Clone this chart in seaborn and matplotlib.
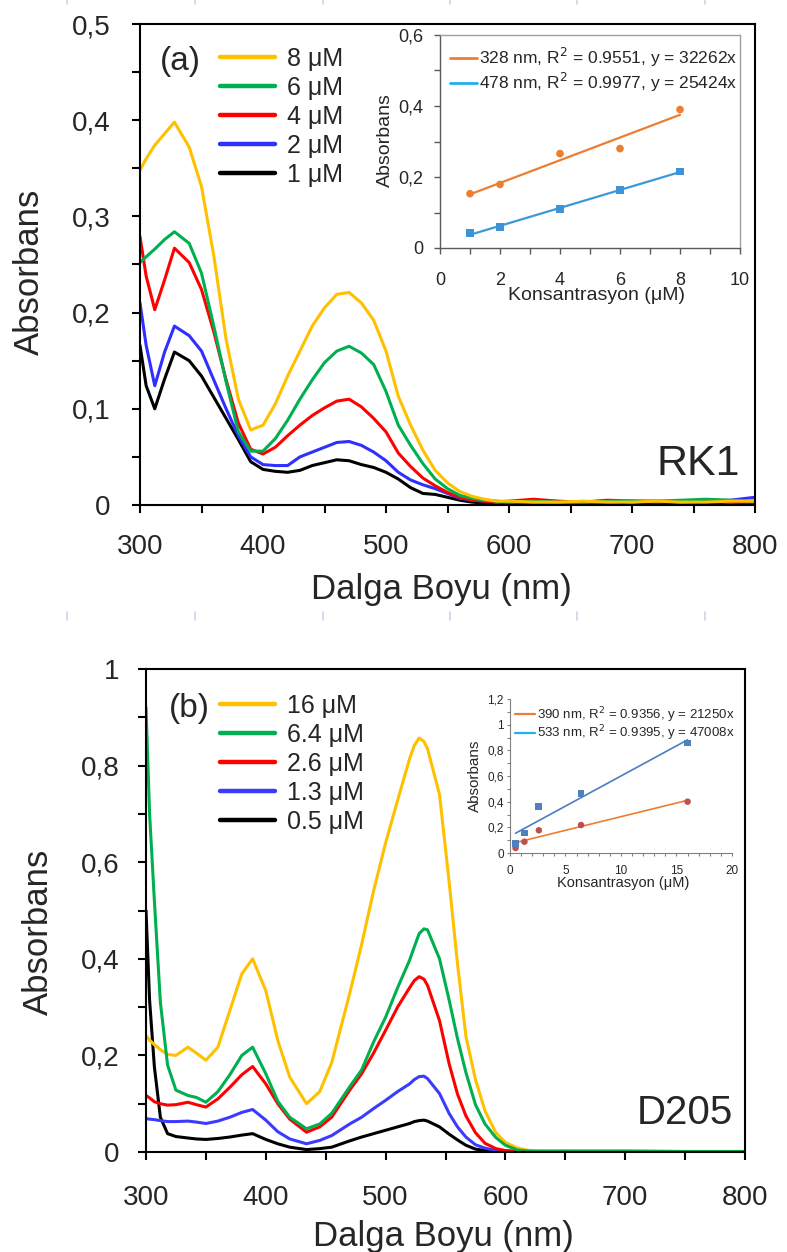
import numpy as np
import pandas as pd
import seaborn as sns
import matplotlib.pyplot as plt
from matplotlib.lines import Line2D
from matplotlib.ticker import FixedLocator, MultipleLocator

# ---- panel (a): RK1 spectra ----
wl_a = [300, 305, 312, 320, 328, 340, 350, 360, 370, 380, 390, 400, 410, 420, 430, 440,
        450, 460, 470, 480, 490, 500, 510, 520, 530, 540, 550, 560, 570, 580, 590, 600,
        620, 640, 660, 680, 700, 720, 740, 760, 780, 800]
rk1_8 = [.348, .360, .374, .386, .398, .372, .331, .259, .172, .110, .078, .083, .105, .134, .160, .186,
         .205, .219, .221, .210, .192, .160, .113, .083, .057, .036, .023, .014, .009, .006, .004, .004,
         .003, .003, .004, .003, .003, .004, .003, .003, .004, .004]
rk1_6 = [.252, .258, .266, .276, .284, .272, .241, .186, .128, .076, .056, .056, .069, .088, .110, .130,
         .148, .160, .165, .158, .146, .118, .083, .062, .043, .027, .017, .010, .007, .005, .004, .003,
         .004, .003, .003, .004, .004, .004, .005, .006, .005, .004]
rk1_4 = [.279, .238, .203, .234, .267, .252, .224, .180, .130, .085, .058, .053, .060, .072, .083, .093,
         .101, .108, .110, .102, .090, .076, .054, .040, .028, .020, .013, .008, .005, .004, .003, .004,
         .006, .004, .003, .005, .004, .003, .004, .004, .003, .003]
rk1_2 = [.210, .166, .124, .159, .186, .176, .160, .130, .100, .072, .050, .042, .041, .041, .050, .055,
         .060, .065, .066, .062, .055, .046, .034, .026, .021, .017, .012, .007, .005, .004, .003, .003,
         .003, .002, .003, .003, .004, .004, .003, .004, .005, .008]
rk1_1 = [.166, .124, .100, .131, .159, .150, .134, .112, .090, .068, .045, .037, .035, .034, .036, .041,
         .044, .047, .046, .042, .039, .034, .027, .018, .012, .011, .008, .005, .003, .002, .003, .002,
         .003, .002, .003, .002, .003, .002, .003, .002, .003, .002]
labels_a = ["1 μM", "2 μM", "4 μM", "6 μM", "8 μM"]

# ---- panel (b): D205 spectra ----
wl_b = [300, 303, 307, 312, 318, 325, 335, 342, 350, 360, 370, 380, 389, 400, 410, 420, 434, 445,
        455, 470, 480, 490, 500, 510, 520, 524, 528, 532, 535, 545, 553, 560, 567, 575, 583, 592,
        600, 610, 620, 650, 700, 750, 800]
d205_16 = [.241, .232, .222, .212, .202, .200, .217, .205, .190, .217, .293, .369, .400, .334, .231, .155, .100, .125,
           .185, .328, .430, .541, .640, .728, .814, .842, .857, .850, .835, .740, .560, .390, .240, .150, .085, .040,
           .020, .008, .003, .001, .001, .001, .001]
d205_64 = [.920, .700, .520, .310, .180, .128, .117, .113, .103, .125, .160, .200, .217, .162, .105, .072, .048, .058,
           .080, .135, .170, .228, .279, .340, .397, .425, .452, .462, .460, .400, .315, .235, .165, .098, .058, .030,
           .014, .004, .002, .001, .001, .001, .001]
d205_26 = [.117, .112, .104, .100, .097, .098, .103, .098, .093, .110, .134, .160, .177, .141, .100, .068, .041, .052,
           .072, .128, .162, .205, .252, .300, .340, .355, .363, .358, .345, .272, .183, .120, .075, .040, .018, .007,
           .003, .001, .001, .002, .001, .001, .001]
d205_13 = [.069, .068, .067, .065, .063, .063, .064, .062, .059, .064, .072, .082, .088, .066, .042, .027, .017, .024,
           .034, .058, .072, .090, .107, .125, .141, .150, .156, .157, .152, .121, .080, .052, .031, .015, .008, .003,
           .002, .001, .001, .001, .002, .001, .001]
d205_05 = [.500, .314, .176, .072, .038, .032, .029, .027, .026, .028, .031, .035, .038, .026, .017, .010, .005, .007,
           .010, .023, .031, .038, .045, .052, .059, .063, .065, .066, .064, .052, .037, .025, .014, .006, .003, .002,
           .001, .001, .001, .001, .001, .001, .001]
labels_b = ["0.5 μM", "1.3 μM", "2.6 μM", "16 μM", "6.4 μM"]

colors_a = ["#000000", "#2F2FFF", "#FF0000", "#00B050", "#FFC000"]
colors_b = ["#000000", "#3B3BFF", "#FF0000", "#FFC000", "#00B050"]
legend_order_b = ["16 μM", "6.4 μM", "2.6 μM", "1.3 μM", "0.5 μM"]

# ---- calibration insets ----
conc_a = [1, 2, 4, 6, 8]
abs_328 = [.153, .179, .266, .280, .390]
abs_478 = [.042, .059, .110, .163, .216]
conc_b = [0.5, 1.3, 2.6, 6.4, 16]
abs_390 = [.039, .088, .177, .218, .400]
abs_533 = [.073, .156, .364, .462, .857]

x_ticks = [300, 400, 500, 600, 700, 800]
ya_ticks = [0, 0.1, 0.2, 0.3, 0.4, 0.5]
ya_labels = ["0", "0,1", "0,2", "0,3", "0,4", "0,5"]
yb_ticks = [0, 0.2, 0.4, 0.6, 0.8, 1.0]
yb_labels = ["0", "0,2", "0,4", "0,6", "0,8", "1"]
ia_yticks = [0, 0.2, 0.4, 0.6]
ia_ylabels = ["0", "0,2", "0,4", "0,6"]
ib_yticks = [0, 0.2, 0.4, 0.6, 0.8, 1.0, 1.2]
ib_ylabels = ["0", "0,2", "0,4", "0,6", "0,8", "1", "1,2"]

sns.set_style("ticks")
plt.rcParams["font.family"] = ["Liberation Sans", "DejaVu Sans"]

W, H = 787, 1252
fig = plt.figure(figsize=(W / 100, H / 100), dpi=100)


def long_df(wl, series, labels):
    return pd.DataFrame({
        "wl": np.tile(wl, len(series)),
        "A": np.concatenate(series),
        "conc": np.repeat(labels, len(wl)),
    })


def style_main(ax, ylim, yticks, ylabels, yminor, xpad, ypad):
    ax.set_xlim(300, 800)
    ax.set_ylim(*ylim)
    ax.xaxis.set_major_locator(FixedLocator(x_ticks))
    ax.set_xticklabels([str(t) for t in x_ticks])
    ax.xaxis.set_minor_locator(MultipleLocator(50))
    ax.yaxis.set_major_locator(FixedLocator(yticks))
    ax.set_yticklabels(ylabels)
    ax.yaxis.set_minor_locator(MultipleLocator(yminor))
    for s in ax.spines.values():
        s.set_linewidth(1.5)
        s.set_color("black")
    ax.tick_params(axis="both", which="both", direction="out", length=6, width=1.5, color="black")
    ax.tick_params(axis="x", labelsize=20, pad=xpad)
    ax.tick_params(axis="y", labelsize=20, pad=ypad)
    ax.set_xlabel("Dalga Boyu (nm)", fontsize=25)
    ax.set_ylabel("Absorbans", fontsize=25)


def px_axes(l, t, r, b):
    return fig.add_axes([l / W, 1 - b / H, (r - l) / W, (b - t) / H])


# ================= panel (a) =================
ax1 = px_axes(140, 24, 755, 505)
df_a = long_df(wl_a, [rk1_1, rk1_2, rk1_4, rk1_6, rk1_8], labels_a)
sns.lineplot(data=df_a, x="wl", y="A", hue="conc", hue_order=labels_a, palette=colors_a,
             linewidth=2.2, errorbar=None, legend=False, ax=ax1)
style_main(ax1, (0, 0.5), ya_ticks, ya_labels, 0.05, 15, 15)
ax1.yaxis.set_label_coords(-0.179, 0.484)
ax1.xaxis.set_label_coords(0.49, -0.176)
ax1.xaxis.label.set_va("center")
ax1.yaxis.label.set_va("center")
leg = ax1.legend(ax1.lines[::-1], labels_a[::-1], loc="upper left", bbox_to_anchor=(0.13, 0.952),
                 frameon=False, fontsize=18, handlelength=2.2, handletextpad=0.5,
                 labelspacing=0.2, borderpad=0, borderaxespad=0)
for ln in leg.get_lines():
    ln.set_linewidth(3.2)
ax1.text(0.065, 0.921, "(a)", transform=ax1.transAxes, fontsize=24, ha="center", va="center")
ax1.text(0.976, 0.085, "RK1", transform=ax1.transAxes, fontsize=31, ha="right", va="center")

# inset (a)
ia = px_axes(440, 35, 740, 248)
sns.regplot(x=conc_a, y=abs_328, ci=None, scatter=False, ax=ia, line_kws=dict(color="#ED7D31", lw=1.6))
sns.regplot(x=conc_a, y=abs_478, ci=None, scatter=False, ax=ia, line_kws=dict(color="#3A9AD9", lw=1.6))
sns.scatterplot(x=conc_a, y=abs_328, marker="o", color="#ED7D31", s=30, edgecolor="none", ax=ia, zorder=3)
sns.scatterplot(x=conc_a, y=abs_478, marker="s", color="#3D93D6", s=30, edgecolor="none", ax=ia, zorder=3)
ia.set_xlim(0, 10)
ia.set_ylim(0, 0.6)
ia.xaxis.set_major_locator(MultipleLocator(2))
ia.xaxis.set_minor_locator(MultipleLocator(1))
ia.yaxis.set_major_locator(FixedLocator(ia_yticks))
ia.set_yticklabels(ia_ylabels)
ia.yaxis.set_minor_locator(MultipleLocator(0.1))
for k, s in ia.spines.items():
    s.set_linewidth(1.0)
    s.set_color("#595959" if k in ("left", "bottom") else "#A0A0A0")
ia.tick_params(which="both", direction="out", length=4, width=1.0, color="#595959")
ia.tick_params(axis="x", labelsize=13, pad=13)
ia.tick_params(axis="y", labelsize=13, pad=8)
ia.set_xlabel("Konsantrasyon (μM)", fontsize=14)
ia.set_ylabel("Absorbans", fontsize=14)
ia.xaxis.set_label_coords(0.523, -0.221)
ia.yaxis.set_label_coords(-0.183, 0.507)
ia.xaxis.label.set_va("center")
ia.yaxis.label.set_va("center")
ha = [Line2D([], [], color="#ED7D31", lw=2), Line2D([], [], color="#1FB0F0", lw=2)]
ia.legend(ha, ["328 nm, R$^2$ = 0.9551, y = 32262x", "478 nm, R$^2$ = 0.9977, y = 25424x"],
          loc="upper left", bbox_to_anchor=(0.033, 0.95), frameon=False, fontsize=12.5,
          handlelength=1.55, handletextpad=0.15, labelspacing=0.1, borderpad=0, borderaxespad=0)

# ================= panel (b) =================
ax2 = px_axes(146, 669, 745, 1152)
df_b = long_df(wl_b, [d205_05, d205_13, d205_26, d205_16, d205_64], labels_b)
sns.lineplot(data=df_b, x="wl", y="A", hue="conc", hue_order=labels_b, palette=colors_b,
             linewidth=2.2, errorbar=None, legend=False, ax=ax2)
style_main(ax2, (0, 1.0), yb_ticks, yb_labels, 0.1, 18, 13)
ax2.yaxis.set_label_coords(-0.180, 0.455)
ax2.xaxis.set_label_coords(0.496, -0.174)
ax2.xaxis.label.set_va("center")
ax2.yaxis.label.set_va("center")
line_map = dict(zip(labels_b, ax2.lines))
leg2 = ax2.legend([line_map[l] for l in legend_order_b], legend_order_b, loc="upper left",
                  bbox_to_anchor=(0.1235, 0.948), frameon=False, fontsize=18, handlelength=2.2,
                  handletextpad=0.5, labelspacing=0.2, borderpad=0, borderaxespad=0)
for ln in leg2.get_lines():
    ln.set_linewidth(3.2)
ax2.text(0.072, 0.919, "(b)", transform=ax2.transAxes, fontsize=24, ha="center", va="center")
ax2.text(0.980, 0.081, "D205", transform=ax2.transAxes, fontsize=29, ha="right", va="center")

# inset (b)
ib = px_axes(510, 699, 732, 853)
sns.regplot(x=conc_b, y=abs_390, ci=None, scatter=False, ax=ib, line_kws=dict(color="#ED7D31", lw=1.2))
sns.regplot(x=conc_b, y=abs_533, ci=None, scatter=False, ax=ib, line_kws=dict(color="#4A7EC0", lw=1.2))
sns.scatterplot(x=conc_b, y=abs_390, marker="o", color="#C0504D", s=22, edgecolor="none", ax=ib, zorder=3)
sns.scatterplot(x=conc_b, y=abs_533, marker="s", color="#4F81BD", s=24, edgecolor="none", ax=ib, zorder=3)
ib.set_xlim(0, 20)
ib.set_ylim(0, 1.2)
ib.xaxis.set_major_locator(MultipleLocator(5))
ib.xaxis.set_minor_locator(MultipleLocator(1))
ib.yaxis.set_major_locator(FixedLocator(ib_yticks))
ib.set_yticklabels(ib_ylabels)
ib.yaxis.set_minor_locator(MultipleLocator(0.1))
ib.spines["top"].set_visible(False)
ib.spines["right"].set_visible(False)
for k in ("left", "bottom"):
    ib.spines[k].set_linewidth(0.8)
    ib.spines[k].set_color("#808080")
ib.tick_params(which="both", direction="out", length=2.5, width=0.8, color="#808080")
ib.tick_params(axis="x", labelsize=8.5, pad=6)
ib.tick_params(axis="y", labelsize=8.5, pad=2)
ib.set_xlabel("Konsantrasyon (μM)", fontsize=10.5)
ib.set_ylabel("Absorbans", fontsize=11)
ib.xaxis.set_label_coords(0.509, -0.195)
ib.yaxis.set_label_coords(-0.158, 0.5)
ib.xaxis.label.set_va("center")
ib.yaxis.label.set_va("center")
hb = [Line2D([], [], color="#ED7D31", lw=1.6), Line2D([], [], color="#1FB0F0", lw=1.6)]
ib.legend(hb, ["390 nm, R$^2$ = 0.9356, y = 21250x", "533 nm, R$^2$ = 0.9395, y = 47008x"],
          loc="upper left", bbox_to_anchor=(0.023, 0.96), frameon=False, fontsize=9.5,
          handlelength=1.5, handletextpad=0.15, labelspacing=-0.1, borderpad=0, borderaxespad=0)

# faint ruler marks left over from the screenshot
for xr in [67, 195, 323, 450, 577, 705]:
    for y0, y1 in [(0, 4), (612, 620)]:
        fig.add_artist(Line2D([xr / W, xr / W], [1 - y0 / H, 1 - y1 / H], transform=fig.transFigure,
                              color="#C9D6EA", lw=1.2))

fig.savefig("out.png", dpi=100)
